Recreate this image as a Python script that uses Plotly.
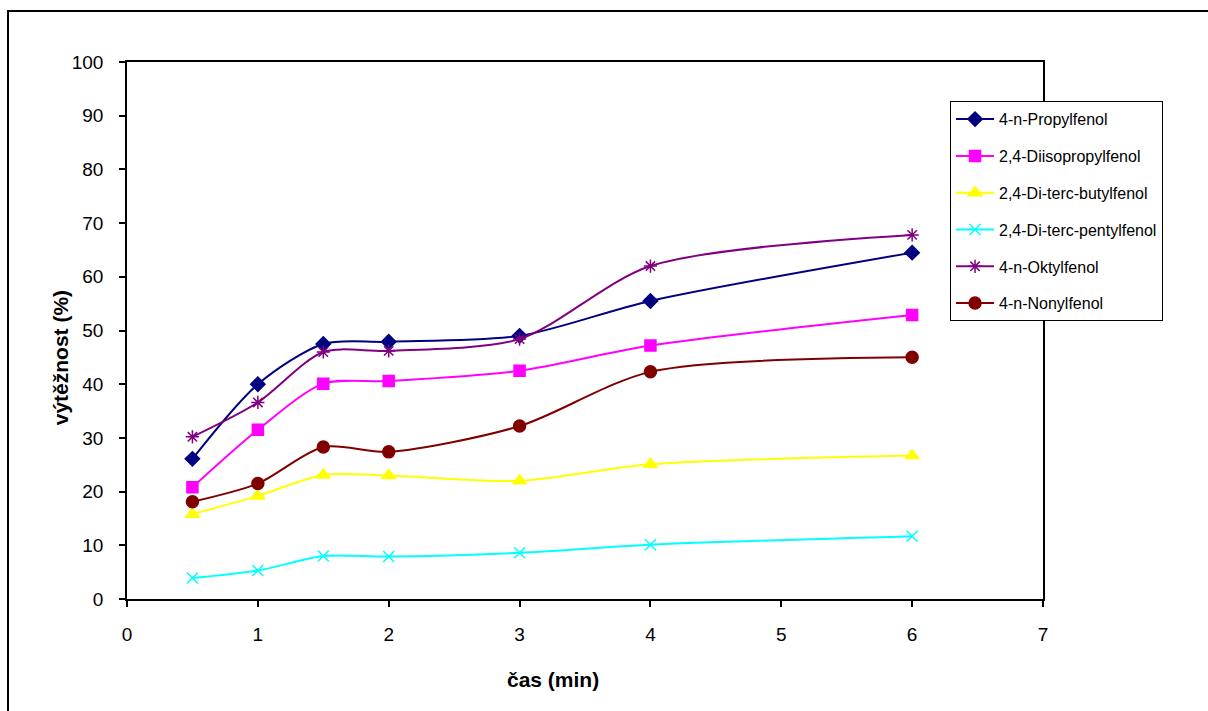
import plotly.graph_objects as go

# Extraction time (min)
cas = [0.5, 1, 1.5, 2, 3, 4, 6]

# Recovery (%) for each compound
propylfenol = [26.1, 40.0, 47.5, 47.9, 49.0, 55.5, 64.5]
diisopropylfenol = [20.8, 31.5, 40.1, 40.6, 42.5, 47.2, 52.9]
di_terc_butylfenol = [15.8, 19.2, 23.1, 23.0, 22.0, 25.1, 26.7]
di_terc_pentylfenol = [3.9, 5.3, 8.0, 7.9, 8.6, 10.1, 11.7]
oktylfenol = [30.2, 36.6, 46.0, 46.2, 48.4, 62.0, 67.8]
nonylfenol = [18.1, 21.5, 28.3, 27.4, 32.2, 42.3, 45.0]

x_ticks = [0, 1, 2, 3, 4, 5, 6, 7]
y_ticks = [0, 10, 20, 30, 40, 50, 60, 70, 80, 90, 100]

series = [
    ("4-n-Propylfenol", propylfenol, "#000080", "diamond", 11),
    ("2,4-Diisopropylfenol", diisopropylfenol, "#FF00FF", "square", 11),
    ("2,4-Di-terc-butylfenol", di_terc_butylfenol, "#FFFF00", "triangle-up", 12),
    ("2,4-Di-terc-pentylfenol", di_terc_pentylfenol, "#00FFFF", "x-thin-open", 11),
    ("4-n-Oktylfenol", oktylfenol, "#800080", "asterisk-open", 11),
    ("4-n-Nonylfenol", nonylfenol, "#800000", "circle", 12),
]

fig = go.Figure()
for i, (name, vals, color, symbol, size) in enumerate(series):
    fig.add_trace(go.Scatter(
        x=cas, y=vals, name=name, mode="lines+markers",
        legendgroup=f"g{i}",
        line=dict(color=color, width=2, shape="spline", smoothing=0.8),
        marker=dict(symbol=symbol, size=size, color=color,
                    line=dict(color=color, width=1.5)),
    ))

font_family = "Liberation Sans, Arial, sans-serif"

fig.update_layout(
    width=1208, height=711,
    margin=dict(l=127, r=165, t=62, b=112),
    paper_bgcolor="white", plot_bgcolor="white",
    font=dict(family=font_family, color="black"),
    showlegend=True,
    legend=dict(
        x=0.8985, y=0.927, xanchor="left", yanchor="top",
        bgcolor="white", bordercolor="black", borderwidth=1,
        font=dict(size=16, family=font_family, color="black"),
        tracegroupgap=13,
        itemwidth=38,
    ),
    xaxis=dict(
        range=[0, 7], tickvals=x_ticks, ticktext=[str(v) for v in x_ticks],
        showline=True, linecolor="black", linewidth=1.5, mirror=True,
        ticks="outside", ticklen=6, tickcolor="black", tickwidth=1.5,
        showgrid=False, zeroline=False,
        tickfont=dict(size=19), ticklabelstandoff=11,
    ),
    yaxis=dict(
        range=[0, 100], tickvals=y_ticks, ticktext=[str(v) for v in y_ticks],
        showline=True, linecolor="black", linewidth=1.5, mirror=True,
        ticks="outside", ticklen=6, tickcolor="black", tickwidth=1.5,
        showgrid=False, zeroline=False,
        tickfont=dict(size=19), ticklabelstandoff=12,
    ),
    annotations=[
        dict(text="<b>čas (min)</b>", xref="paper", yref="paper",
             x=0.465, y=-0.15, xanchor="center", yanchor="middle",
             showarrow=False, font=dict(size=21)),
        dict(text="<b>výtěžnost (%)</b>", xref="paper", yref="paper",
             x=-0.0732, y=0.45, xanchor="center", yanchor="middle",
             textangle=-90, showarrow=False, font=dict(size=21)),
    ],
    shapes=[
        dict(type="rect", xref="paper", yref="paper",
             x0=-0.1299, x1=1.3, y0=-0.25, y1=1.095,
             line=dict(color="black", width=2), fillcolor="rgba(0,0,0,0)",
             layer="below"),
    ],
)

fig.write_html("out.html")
